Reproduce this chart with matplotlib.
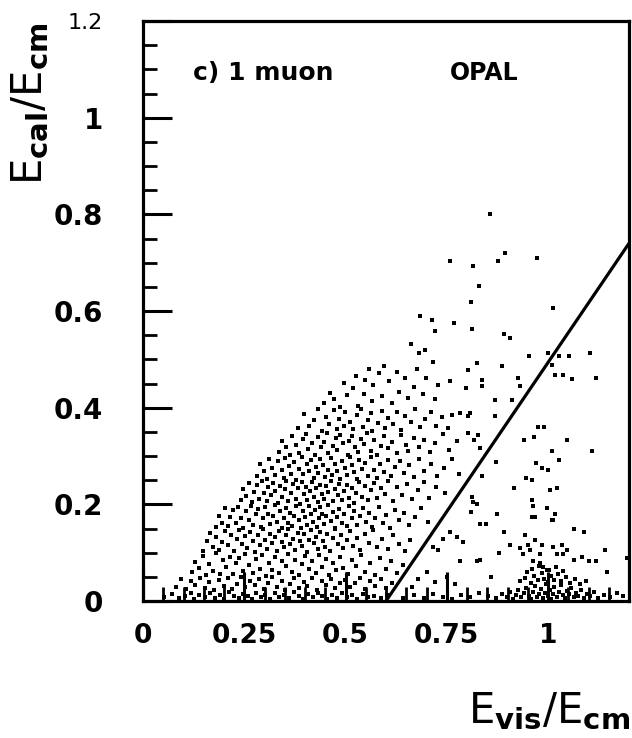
import matplotlib
matplotlib.use("Agg")
import matplotlib.pyplot as plt
from matplotlib.ticker import MultipleLocator

plt.rcParams['mathtext.default'] = 'regular'

main_pts = [
    # 0.40 - 0.50
    (0.448,0.409),(0.461,0.431),(0.472,0.418),(0.486,0.402),(0.497,0.452),(0.503,0.427),(0.519,0.441),(0.525,0.466),
    (0.531,0.404),(0.546,0.429),(0.549,0.458),(0.557,0.481),(0.566,0.413),(0.568,0.447),(0.583,0.472),(0.591,0.424),
    (0.596,0.486),(0.608,0.455),(0.614,0.409),(0.626,0.474),(0.631,0.433),(0.647,0.462),(0.655,0.421),(0.669,0.443),
    (0.677,0.479),(0.691,0.428),(0.698,0.461),(0.721,0.417),(0.728,0.446),
    # 0.35 - 0.40
    (0.383,0.358),(0.398,0.386),(0.409,0.362),(0.421,0.374),(0.433,0.397),(0.442,0.352),(0.452,0.381),(0.459,0.367),
    (0.471,0.395),(0.478,0.356),(0.485,0.377),(0.497,0.363),(0.499,0.392),(0.512,0.371),(0.518,0.355),(0.529,0.384),
    (0.538,0.398),(0.544,0.361),(0.555,0.374),(0.564,0.389),(0.566,0.352),(0.581,0.368),(0.589,0.393),(0.598,0.357),
    (0.604,0.379),(0.617,0.366),(0.626,0.391),(0.638,0.354),(0.646,0.383),(0.661,0.371),(0.672,0.398),(0.683,0.359),
    (0.696,0.376),(0.711,0.392),(0.724,0.363),(0.739,0.381),(0.753,0.357),
    # 0.30 - 0.35
    (0.335,0.309),(0.344,0.331),(0.352,0.318),(0.363,0.302),(0.368,0.341),(0.377,0.322),(0.386,0.307),(0.394,0.335),
    (0.403,0.346),(0.408,0.314),(0.417,0.327),(0.425,0.303),(0.431,0.339),(0.439,0.318),(0.447,0.329),(0.454,0.348),
    (0.457,0.306),(0.469,0.321),(0.476,0.337),(0.478,0.312),(0.487,0.344),(0.494,0.326),(0.505,0.303),(0.509,0.331),
    (0.517,0.342),(0.523,0.319),(0.531,0.308),(0.538,0.336),(0.546,0.324),(0.553,0.347),(0.562,0.311),(0.571,0.333),
    (0.578,0.302),(0.587,0.321),(0.596,0.341),(0.605,0.316),(0.614,0.329),(0.627,0.306),(0.636,0.344),(0.649,0.323),
    (0.655,0.311),(0.668,0.338),(0.681,0.319),(0.693,0.334),(0.708,0.308),(0.721,0.327),(0.741,0.346),(0.756,0.313),
    (0.776,0.331),
    # 0.25 - 0.30
    (0.281,0.259),(0.289,0.283),(0.298,0.268),(0.306,0.252),(0.312,0.294),(0.319,0.276),(0.327,0.261),(0.333,0.289),
    (0.342,0.271),(0.348,0.254),(0.351,0.296),(0.361,0.279),(0.366,0.263),(0.372,0.287),(0.379,0.251),(0.384,0.274),
    (0.392,0.298),(0.396,0.262),(0.404,0.283),(0.409,0.269),(0.414,0.291),(0.422,0.255),(0.426,0.277),(0.433,0.264),
    (0.437,0.293),(0.445,0.281),(0.449,0.257),(0.456,0.272),(0.463,0.296),(0.466,0.261),(0.473,0.284),(0.479,0.268),
    (0.486,0.252),(0.491,0.289),(0.498,0.276),(0.504,0.261),(0.511,0.298),(0.515,0.282),(0.522,0.266),(0.529,0.253),
    (0.534,0.291),(0.541,0.274),(0.549,0.285),(0.556,0.259),(0.563,0.297),(0.571,0.271),(0.579,0.255),(0.586,0.283),
    (0.595,0.266),(0.604,0.292),(0.613,0.258),(0.622,0.277),(0.634,0.289),(0.644,0.264),(0.657,0.281),(0.669,0.256),
    (0.681,0.294),(0.694,0.269),(0.711,0.283),(0.726,0.259),(0.744,0.276),(0.763,0.294),(0.781,0.262),
    # 0.20 - 0.25
    (0.241,0.209),(0.248,0.231),(0.255,0.218),(0.262,0.244),(0.268,0.205),(0.273,0.226),(0.281,0.239),(0.286,0.212),
    (0.293,0.248),(0.299,0.224),(0.305,0.207),(0.309,0.236),(0.316,0.219),(0.322,0.245),(0.327,0.228),(0.334,0.203),
    (0.339,0.238),(0.344,0.216),(0.351,0.231),(0.354,0.249),(0.359,0.207),(0.366,0.223),(0.371,0.242),(0.377,0.212),
    (0.382,0.234),(0.388,0.201),(0.392,0.247),(0.397,0.221),(0.403,0.236),(0.406,0.209),(0.413,0.228),(0.418,0.246),
    (0.422,0.215),(0.428,0.233),(0.432,0.204),(0.437,0.241),(0.443,0.222),(0.448,0.211),(0.452,0.237),(0.458,0.226),
    (0.463,0.249),(0.469,0.206),(0.474,0.232),(0.481,0.219),(0.484,0.243),(0.491,0.208),(0.497,0.228),(0.503,0.241),
    (0.509,0.214),(0.516,0.233),(0.522,0.203),(0.527,0.224),(0.534,0.246),(0.541,0.216),(0.547,0.238),(0.556,0.209),
    (0.562,0.229),(0.571,0.244),(0.579,0.213),(0.588,0.234),(0.597,0.221),(0.606,0.248),(0.617,0.206),(0.626,0.236),
    (0.639,0.219),(0.651,0.243),(0.663,0.211),(0.678,0.229),(0.693,0.246),(0.707,0.214),(0.724,0.236),(0.746,0.223),
    # 0.15 - 0.20
    (0.181,0.153),(0.188,0.176),(0.196,0.161),(0.203,0.193),(0.209,0.156),(0.216,0.174),(0.222,0.188),(0.229,0.162),
    (0.235,0.195),(0.241,0.171),(0.247,0.152),(0.254,0.186),(0.261,0.168),(0.266,0.197),(0.272,0.157),(0.279,0.179),
    (0.284,0.191),(0.291,0.154),(0.296,0.172),(0.302,0.194),(0.308,0.181),(0.314,0.159),(0.321,0.175),(0.326,0.198),
    (0.332,0.164),(0.338,0.186),(0.344,0.151),(0.348,0.172),(0.353,0.192),(0.359,0.161),(0.364,0.183),(0.369,0.156),
    (0.374,0.175),(0.379,0.196),(0.384,0.167),(0.389,0.151),(0.394,0.186),(0.399,0.173),(0.404,0.158),(0.409,0.197),
    (0.414,0.179),(0.419,0.163),(0.424,0.188),(0.429,0.154),(0.434,0.171),(0.438,0.194),(0.443,0.181),(0.448,0.159),
    (0.453,0.176),(0.458,0.199),(0.464,0.166),(0.469,0.185),(0.474,0.152),(0.479,0.173),(0.485,0.191),(0.491,0.162),
    (0.497,0.179),(0.503,0.155),(0.509,0.196),(0.516,0.171),(0.522,0.187),(0.529,0.158),(0.536,0.176),(0.543,0.193),
    (0.551,0.164),(0.558,0.182),(0.566,0.153),(0.574,0.171),(0.583,0.195),(0.592,0.161),(0.601,0.178),(0.611,0.152),
    (0.621,0.189),(0.632,0.167),(0.644,0.183),(0.657,0.157),(0.671,0.174),(0.686,0.192),(0.703,0.163),
    # 0.10 - 0.15
    (0.149,0.104),(0.158,0.125),(0.166,0.141),(0.173,0.111),(0.181,0.133),(0.188,0.106),(0.196,0.122),(0.203,0.145),
    (0.211,0.115),(0.218,0.136),(0.225,0.103),(0.231,0.129),(0.238,0.147),(0.245,0.118),(0.251,0.134),(0.258,0.109),
    (0.264,0.142),(0.271,0.124),(0.277,0.101),(0.283,0.137),(0.289,0.116),(0.296,0.149),(0.302,0.127),(0.307,0.108),
    (0.314,0.139),(0.319,0.119),(0.326,0.132),(0.331,0.104),(0.337,0.145),(0.342,0.123),(0.348,0.111),(0.353,0.136),
    (0.359,0.148),(0.364,0.117),(0.371,0.129),(0.376,0.105),(0.382,0.141),(0.387,0.124),(0.393,0.113),(0.398,0.138),
    (0.404,0.102),(0.409,0.127),(0.415,0.146),(0.421,0.119),(0.426,0.133),(0.432,0.107),(0.438,0.142),(0.444,0.125),
    (0.449,0.112),(0.455,0.139),(0.462,0.103),(0.468,0.131),(0.474,0.148),(0.481,0.118),(0.488,0.136),(0.495,0.109),
    (0.503,0.127),(0.511,0.144),(0.519,0.114),(0.528,0.131),(0.537,0.106),(0.547,0.139),(0.557,0.121),(0.568,0.147),
    (0.579,0.112),(0.591,0.129),(0.604,0.108),(0.617,0.136),(0.631,0.118),(0.646,0.104),(0.659,0.126),
    # 0.05 - 0.10
    (0.121,0.059),(0.129,0.081),(0.138,0.068),(0.147,0.094),(0.156,0.053),(0.163,0.076),(0.172,0.063),(0.181,0.099),
    (0.189,0.056),(0.197,0.084),(0.206,0.071),(0.214,0.092),(0.222,0.055),(0.229,0.078),(0.238,0.089),(0.246,0.062),
    (0.253,0.097),(0.262,0.074),(0.271,0.058),(0.279,0.087),(0.288,0.067),(0.295,0.095),(0.304,0.052),(0.311,0.079),
    (0.319,0.064),(0.327,0.091),(0.336,0.057),(0.343,0.083),(0.352,0.072),(0.359,0.098),(0.368,0.061),(0.376,0.085),
    (0.385,0.054),(0.392,0.077),(0.401,0.093),(0.409,0.066),(0.418,0.082),(0.426,0.058),(0.434,0.096),(0.443,0.071),
    (0.451,0.087),(0.459,0.053),(0.468,0.079),(0.477,0.064),(0.486,0.092),(0.495,0.069),(0.506,0.056),(0.516,0.084),
    (0.527,0.073),(0.538,0.095),(0.549,0.061),(0.561,0.079),(0.573,0.054),(0.586,0.088),(0.599,0.066),(0.613,0.083),
    (0.628,0.057),(0.643,0.074),
    # 0.02 - 0.05
    (0.081,0.029),(0.094,0.046),(0.106,0.024),(0.119,0.041),(0.128,0.033),(0.141,0.048),(0.153,0.027),(0.164,0.039),
    (0.176,0.022),(0.187,0.044),(0.199,0.031),(0.211,0.047),(0.219,0.025),(0.231,0.036),(0.243,0.049),(0.252,0.028),
    (0.264,0.041),(0.276,0.033),(0.286,0.046),(0.299,0.024),(0.309,0.038),(0.318,0.049),(0.331,0.029),(0.342,0.042),
    (0.351,0.022),(0.363,0.035),(0.374,0.047),(0.386,0.027),(0.397,0.039),(0.405,0.031),(0.418,0.048),(0.429,0.023),
    (0.441,0.041),(0.452,0.034),(0.463,0.046),(0.474,0.026),(0.486,0.038),(0.499,0.044),(0.511,0.029),(0.523,0.037),
    (0.536,0.048),(0.548,0.025),(0.561,0.041),(0.574,0.032),(0.588,0.045),(0.601,0.027),(0.616,0.038),
]

# sparse events in the upper part of the plot
upper_pts = [
    (0.857,0.800),(0.758,0.703),(0.815,0.694),(0.877,0.703),(0.894,0.721),(0.974,0.709),(0.829,0.651),(0.810,0.618),
    (1.013,0.606),(0.685,0.590),(0.714,0.582),(0.722,0.559),(0.769,0.576),(0.812,0.563),(0.891,0.552),(0.906,0.544),
    (0.662,0.531),(0.697,0.520),(0.682,0.513),(0.954,0.506),(0.999,0.513),(0.824,0.493),(0.715,0.495),(0.886,0.486),
    (0.802,0.478),(0.837,0.458),(0.838,0.444),(0.757,0.456),(0.869,0.416),(0.911,0.416),(0.797,0.440),(0.807,0.389),
    (0.802,0.382),(0.783,0.389),(0.763,0.385),(0.926,0.461),(0.931,0.444),(0.870,0.382),(0.802,0.348),(0.827,0.344),
    (0.817,0.334),(0.832,0.316),
]

# events right of the cut line
right_pts = [
    (1.026,0.507),(1.051,0.507),(1.103,0.513),(1.011,0.488),(1.017,0.468),(1.036,0.468),(1.059,0.460),(1.118,0.462),
    (0.976,0.361),(0.991,0.361),(0.941,0.334),(0.966,0.340),(1.048,0.334),(1.108,0.310),(1.011,0.310),(1.026,0.292),
    (0.971,0.285),(0.986,0.275),(1.001,0.271),(0.946,0.254),(0.961,0.250),(1.021,0.233),(1.006,0.230),(0.916,0.233),
    (0.871,0.288),(0.837,0.258),(0.812,0.216),(0.960,0.208),(0.964,0.197),(0.997,0.192),(1.017,0.181),(0.960,0.174),
    (0.968,0.174),(1.009,0.167),(1.013,0.167),(1.065,0.148),(1.089,0.143),(0.943,0.136),(0.968,0.127),(0.891,0.143),
    (0.873,0.181),(0.832,0.160),(0.848,0.160),(0.811,0.185),(0.814,0.205),(0.824,0.200),(0.791,0.123),(0.775,0.133),
    (0.758,0.143),(0.741,0.129),(0.729,0.105),(0.716,0.112),(0.783,0.082),(0.824,0.082),(0.832,0.085),(0.906,0.116),
    (0.931,0.109),(0.939,0.098),(0.951,0.116),(0.956,0.105),(0.984,0.116),(0.980,0.098),(1.013,0.112),(1.021,0.098),
    (1.034,0.116),(1.038,0.098),(1.046,0.105),(1.063,0.085),(1.083,0.092),(1.100,0.082),(1.118,0.082),(1.140,0.105),
    (1.194,0.088),(1.145,0.060),(0.964,0.082),(0.980,0.078),(0.988,0.071),(0.997,0.064),(0.700,0.060),(0.720,0.040),
    (0.680,0.045),(0.665,0.030),(0.750,0.050),(0.770,0.035),(0.860,0.050),(0.880,0.100),
    (0.931,0.041),(0.944,0.048),(0.957,0.038),(0.966,0.052),(0.975,0.043),(0.984,0.057),(0.990,0.046),(0.999,0.039),
    (1.007,0.051),(1.015,0.044),(1.024,0.056),(1.033,0.041),(1.044,0.049),(1.055,0.037),(1.067,0.045),(1.079,0.035),
    (1.093,0.042),(0.961,0.067),(0.978,0.072),(1.003,0.064),(1.019,0.071),(0.949,0.061),(1.038,0.062),
]

# events piled up just above Ecal = 0
floor_pts = [
    (0.052,0.008),(0.071,0.014),(0.088,0.006),(0.103,0.011),(0.118,0.017),(0.127,0.005),(0.139,0.012),(0.152,0.009),
    (0.166,0.016),(0.178,0.007),(0.189,0.013),(0.201,0.004),(0.213,0.018),(0.224,0.010),(0.236,0.006),(0.247,0.015),
    (0.259,0.011),(0.268,0.005),(0.279,0.017),(0.291,0.008),(0.302,0.013),(0.314,0.004),(0.326,0.016),(0.337,0.009),
    (0.349,0.012),(0.361,0.006),(0.372,0.018),(0.384,0.010),(0.396,0.005),(0.407,0.014),(0.419,0.008),(0.431,0.017),
    (0.443,0.011),(0.455,0.004),(0.467,0.013),(0.479,0.007),(0.491,0.016),(0.503,0.009),(0.516,0.012),(0.529,0.005),
    (0.542,0.015),(0.556,0.008),(0.571,0.011),(0.587,0.006),(0.603,0.013),
    (0.642,0.007),(0.668,0.012),(0.693,0.006),(0.717,0.015),(0.741,0.009),(0.762,0.005),(0.786,0.013),(0.808,0.008),
    (0.829,0.016),(0.851,0.010),(0.872,0.006),(0.887,0.014),(0.898,0.009),(0.906,0.018),(0.913,0.005),(0.921,0.012),
    (0.927,0.022),(0.934,0.008),(0.941,0.016),(0.946,0.027),(0.952,0.011),(0.958,0.005),(0.963,0.019),(0.968,0.031),
    (0.973,0.009),(0.978,0.014),(0.983,0.024),(0.987,0.006),(0.992,0.017),(0.996,0.036),(1.000,0.011),(1.004,0.022),
    (1.008,0.005),(1.012,0.015),(1.016,0.028),(1.021,0.009),(1.026,0.019),(1.031,0.033),(1.036,0.012),(1.041,0.006),
    (1.046,0.021),(1.052,0.014),(1.058,0.027),(1.063,0.008),(1.069,0.017),(1.075,0.011),(1.082,0.023),(1.089,0.006),
    (1.096,0.015),(1.104,0.010),(1.113,0.019),(1.124,0.007),(1.138,0.013),(1.152,0.009),(1.171,0.016),(1.186,0.011),
]

# selection cut
cut_x = [0.6, 1.2]
cut_y = [0.0, 0.74]

x_ticks = [0, 0.25, 0.5, 0.75, 1]
x_ticklabels = ['0', '0.25', '0.5', '0.75', '1']
y_ticks = [0, 0.2, 0.4, 0.6, 0.8, 1, 1.2]
y_ticklabels = ['0', '0.2', '0.4', '0.6', '0.8', '1', '1.2']

fig = plt.figure(figsize=(6.32, 7.38), dpi=100)
ax = fig.add_axes([143/632, 137/738, 486/632, 580/738])

for pts in (main_pts, upper_pts, right_pts, floor_pts):
    xs = [p[0] for p in pts]
    ys = [p[1] for p in pts]
    ax.scatter(xs, ys, s=7, marker='s', color='black', linewidths=0)

ax.plot(cut_x, cut_y, color='black', lw=2.3, solid_capstyle='butt')

ax.set_xlim(0, 1.2)
ax.set_ylim(0, 1.2)
for sp in ax.spines.values():
    sp.set_linewidth(2.3)

ax.set_xticks(x_ticks)
ax.set_xticklabels(x_ticklabels)
ax.set_yticks(y_ticks)
ax.set_yticklabels(y_ticklabels)
ax.xaxis.set_minor_locator(MultipleLocator(0.05))
ax.yaxis.set_minor_locator(MultipleLocator(0.05))
ax.tick_params(which='both', direction='in', top=False, right=False)
ax.tick_params(which='major', length=21, width=2.2)
ax.tick_params(which='minor', length=10, width=2.0)
ax.tick_params(axis='x', which='major', labelsize=19, pad=16)
ax.tick_params(axis='y', which='major', labelsize=20, pad=29)
for lab in ax.get_xticklabels() + ax.get_yticklabels():
    lab.set_fontweight('bold')
top_lab = ax.get_yticklabels()[-1]
top_lab.set_fontweight('normal')
top_lab.set_fontsize(16)

ax.text(0.123, 1.093, 'c) 1 muon', fontsize=18, fontweight='bold', va='center', ha='left')
ax.text(0.758, 1.093, 'OPAL', fontsize=17, fontweight='bold', va='center', ha='left')

fig.text(30/632, 1 - 22/738, r'$E_{\mathbf{cal}}/E_{\mathbf{cm}}$', rotation=90,
         fontsize=30, ha='center', va='top')
fig.text(630/632, 1 - 711/738, r'$E_{\mathbf{vis}}/E_{\mathbf{cm}}$',
         fontsize=30, ha='right', va='center')

fig.savefig('out.png', dpi=100)
